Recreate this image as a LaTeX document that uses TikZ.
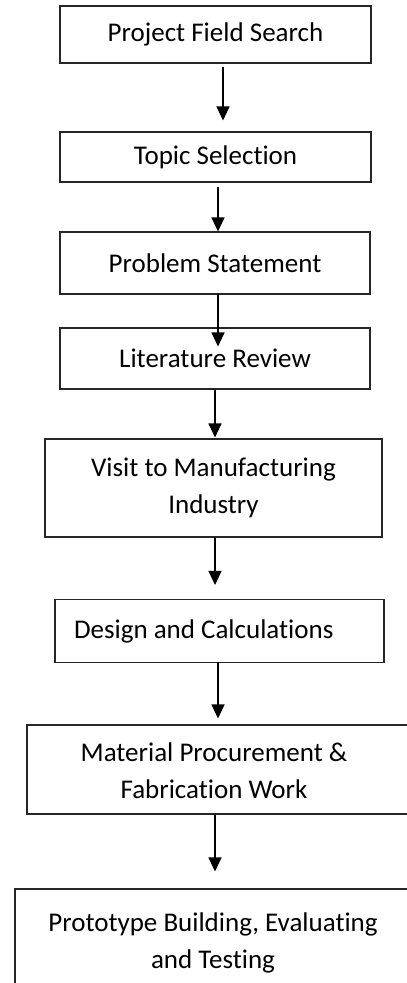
\documentclass[tikz,border=0pt]{standalone}
\usepackage{fontspec}
\setmainfont{Carlito}[Ligatures={NoCommon,NoRequired}]
\usetikzlibrary{arrows.meta,calc}

\tikzset{
    stage/.style={draw=black!85, line width=1.1pt, inner sep=0pt, align=center,
        font=\fontsize{27}{37}\selectfont},
    stagetext/.style={inner sep=0pt, align=center, font=\fontsize{27}{37}\selectfont},
    flow/.style={-{Triangle[width=13pt,length=14pt]}, line width=1.1pt}
}

\begin{document}
\begin{tikzpicture}[x=1pt, y=-1pt]
    \path[use as bounding box] (0,0) rectangle (407,983);
    \clip (0,0) rectangle (407,983);

    % stages of the project
    \node[stage, minimum width=311pt, minimum height=57pt] (fsearch) at (215.5,34.5) {Project Field Search};
    \node[stage, minimum width=311pt, minimum height=50pt] (topic) at (215.5,157) {Topic Selection};
    \node[stage, minimum width=310pt, minimum height=62pt] (probstate) at (215,263) {Problem Statement};
    \node[stage, minimum width=310pt, minimum height=61pt] (litreview) at (215,358.5) {Literature Review};
    \node[stage, minimum width=337pt, minimum height=98pt] (visit) at (213.5,488) {Visit to Manufacturing\\Industry};
    \node[stage, align=flush left, inner xsep=19pt, text width=291pt, minimum height=63pt] (design) at (219.5,631) {Design and Calculations};

    % last two boxes run off the page, text placed on its own
    \node[stage, minimum width=393pt, minimum height=89pt] (fabwork) at (223.5,769.5) {};
    \node[stagetext] (fabtext) at (214,771) {Material Procurement \&\\Fabrication Work};
    \node[stage, minimum width=405pt, minimum height=111pt] (testing) at (217.5,944.5) {};
    \node[stagetext] (testtext) at (213,942.5) {Prototype Building, Evaluating\\and Testing};

    % arrows
    \draw[flow] ($(fsearch.south)+(7.5,3)$) -- ($(topic.north)+(7.5,-11)$);
    \draw[flow] (topic.south) ++(2.5,4) coordinate (t2) -- (t2 |- probstate.north);
    \draw[flow] ($(probstate.south)+(3,-1)$) -- ($(litreview.north)+(3,19)$);
    \draw[flow] (litreview.south) -- ($(visit.north)+(1.5,-1)$);
    \draw[flow] ($(visit.south)+(1.5,0)$) -- ($(design.north)+(-4.5,-14)$);
    \draw[flow] ($(design.south)+(-1.5,-1)$) -- ($(fabwork.north)+(-5.5,-6)$);
    \draw[flow] ($(fabwork.south)+(-8.5,0)$) -- ($(testing.north)+(-2.5,-17)$);
\end{tikzpicture}
\end{document}
